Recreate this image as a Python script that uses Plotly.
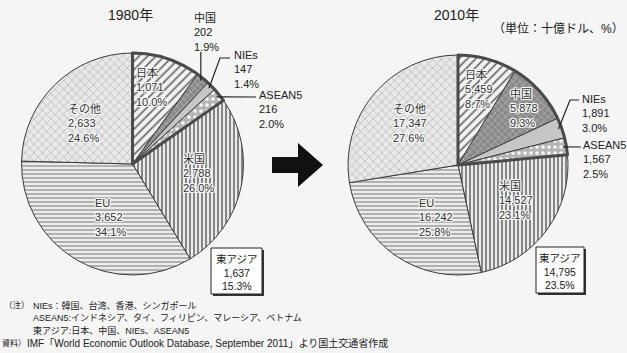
import math
import plotly.graph_objects as go

W, H = 627, 353

# Nominal GDP by region (billion US$)
regions = ["日本", "中国", "NIEs", "ASEAN5", "米国", "EU", "その他"]
gdp_1980 = [1071, 202, 147, 216, 2788, 3652, 2633]
gdp_2010 = [5459, 5878, 1891, 1567, 14527, 16242, 17347]
east_asia_total = [1637, 14795]
years = ["1980年", "2010年"]
unit_label = "（単位：十億ドル、%）"
east_asia_label = "東アジア"
note_prefixes = ["（注）", "資料）"]
note_lines = [
    "NIEs：韓国、台湾、香港、シンガポール",
    "ASEAN5:インドネシア、タイ、フィリピン、マレーシア、ベトナム",
    "東アジア:日本、中国、NIEs、ASEAN5",
]
source_line = "IMF「World Economic Outlook Database, September 2011」より国土交通省作成"

FONT = "Liberation Sans, Noto Sans CJK JP, sans-serif"
BG = "#f5f5f5"
EDGE = "#3c3c3c"
INK = "#222222"

# fill style for each region
patterns = [
    dict(shape="/", bgcolor="#f2f2f2", fgcolor="#6e6e6e", size=6, solidity=0.3),
    dict(shape="x", bgcolor="#8a8a8a", fgcolor="#b0b0b0", size=5, solidity=0.3),
    dict(shape="", bgcolor="#c6c6c6", fgcolor="#c6c6c6"),
    dict(shape=".", bgcolor="#b4b4b4", fgcolor="#f6f6f6", size=6, solidity=0.3),
    dict(shape="|", bgcolor="#ececec", fgcolor="#7a7a7a", size=4, solidity=0.45),
    dict(shape="-", bgcolor="#ececec", fgcolor="#a2a2a2", size=4, solidity=0.4),
    dict(shape="x", bgcolor="#e8e8e8", fgcolor="#b8b8b8", size=6, solidity=0.25),
]
fills = [p["bgcolor"] for p in patterns]


def px(x):
    return x / W


def py(y):
    return 1 - y / H


# pie geometry in pixels: centre x, centre y, radius
pies = [(132.5, 164.0, 111.0), (458.0, 165.0, 110.0)]
series = [gdp_1980, gdp_2010]

fig = go.Figure()
for (cx, cy, r), vals, ea in zip(pies, series, east_asia_total):
    dom = dict(x=[px(cx - r), px(cx + r)], y=[py(cy + r), py(cy - r)])
    fig.add_trace(go.Pie(
        labels=regions, values=vals, sort=False, direction="clockwise",
        rotation=0, domain=dom, textinfo="none", hoverinfo="label+value+percent",
        marker=dict(colors=fills, pattern=dict(
            shape=[p["shape"] for p in patterns],
            bgcolor=[p["bgcolor"] for p in patterns],
            fgcolor=[p["fgcolor"] for p in patterns],
            size=[p.get("size", 8) for p in patterns],
            solidity=[p.get("solidity", 0.3) for p in patterns],
            fillmode="replace"),
            line=dict(color=EDGE, width=1)),
        showlegend=False,
    ))
    # thick outline around the East Asia group
    rest = sum(vals[4:])
    fig.add_trace(go.Pie(
        labels=["東アジア", "その他地域"], values=[ea, rest], sort=False,
        direction="clockwise", rotation=0, domain=dom, textinfo="none",
        hoverinfo="skip",
        marker=dict(colors=["rgba(0,0,0,0)", "rgba(0,0,0,0)"],
                    line=dict(color="#4a4a4a", width=[3, 0])),
        showlegend=False,
    ))


def slice_point(vals, idx, cx, cy, r, frac):
    total = sum(vals)
    mid = (sum(vals[:idx]) + vals[idx] / 2) / total * 2 * math.pi
    return cx + frac * r * math.sin(mid), cy - frac * r * math.cos(mid)


def label_text(vals, idx):
    total = sum(vals)
    return f"{regions[idx]}<br>{vals[idx]:,}<br>{vals[idx] / total * 100:.1f}%"


HALO = ", ".join(f"{dx}px {dy}px 0 #f8f8f8" for dx, dy in
                 [(1, 0), (-1, 0), (0, 1), (0, -1), (1, 1), (-1, -1), (1, -1), (-1, 1)])

annotations = []
shapes = []

# label anchor (left x, middle y) for each region, per year
label_pos = [
    [(135, 87), (193, 33), (233, 70), (258, 110), (182, 173), (94, 217), (67, 123)],
    [(464, 89), (509, 108), (581, 113), (582, 159), (498, 200), (418, 217), (392, 123)],
]
outside = [[1, 2, 3], [2, 3]]
LABEL_SIZE = 11

for k, vals in enumerate(series):
    for i in range(len(regions)):
        lx, ly = label_pos[k][i]
        ext = i in outside[k]
        annotations.append(dict(
            x=px(lx), y=py(ly), xref="paper", yref="paper",
            xanchor="left", yanchor="middle", align="left", borderpad=0,
            text=label_text(vals, i), showarrow=False,
            font=dict(family=FONT, size=LABEL_SIZE, color=INK if ext else "#333333",
                      shadow="none" if ext else HALO),
        ))

# leader lines from outside labels to their slices: (pie, bend points, slice, vertical)
leaders = [
    (0, [], 1, True),
    (0, [(230, 58), (220, 58)], 2, False),
    (0, [(256, 97)], 3, False),
    (1, [(579, 100), (570, 100)], 2, False),
    (1, [(581, 147)], 3, False),
]
for k, pts, idx, vertical in leaders:
    cx, cy, r = pies[k]
    ex, ey = slice_point(series[k], idx, cx, cy, r, 0.97)
    if vertical:
        pts = [(ex, 52)]
    path = "M " + " L ".join(f"{px(a)},{py(b)}" for a, b in pts + [(ex, ey)])
    shapes.append(dict(type="path", xref="paper", yref="paper", path=path,
                       line=dict(color=INK, width=1.2), layer="above"))

# East Asia total boxes with drop shadow
boxes = [(211, 248, 262, 294), (536, 247, 584, 293)]
for (x0, y0, x1, y1), ea, vals in zip(boxes, east_asia_total, series):
    total = sum(vals[4:]) + ea
    shapes.append(dict(type="rect", xref="paper", yref="paper",
                       x0=px(x0 + 2), x1=px(x1 + 2), y0=py(y1 + 2), y1=py(y0 + 2),
                       fillcolor="#333333", line=dict(width=0), layer="above"))
    shapes.append(dict(type="rect", xref="paper", yref="paper",
                       x0=px(x0), x1=px(x1), y0=py(y1), y1=py(y0),
                       fillcolor="#ffffff", line=dict(color=INK, width=1),
                       layer="above"))
    annotations.append(dict(
        x=px((x0 + x1) / 2), y=py((y0 + y1) / 2 + 1), xref="paper", yref="paper",
        xanchor="center", yanchor="middle", align="center", showarrow=False,
        borderpad=0,
        text=f"{east_asia_label}<br>{ea:,}<br>{ea / total * 100:.1f}%",
        font=dict(family=FONT, size=10.5, color=INK),
    ))

# arrow between the two pies
arrow = [(272, 157), (298, 157), (298, 143), (323, 165), (298, 187), (298, 173), (272, 173)]
shapes.append(dict(type="path", xref="paper", yref="paper",
                   path="M " + " L ".join(f"{px(a)},{py(b)}" for a, b in arrow) + " Z",
                   fillcolor="#111111", line=dict(width=0)))

# year titles and unit
for (cx_, _, _), yr in zip(pies, years):
    annotations.append(dict(x=px(cx_ - 2), y=py(15), xref="paper", yref="paper",
                            xanchor="center", yanchor="middle", showarrow=False,
                            text=yr, font=dict(family=FONT, size=14, color=INK)))
annotations.append(dict(x=px(626), y=py(29), xref="paper", yref="paper",
                        xanchor="right", yanchor="middle", showarrow=False,
                        text=unit_label, font=dict(family=FONT, size=12, color=INK)))

# notes and source
PREFIX_SIZE = 8.5
annotations.append(dict(x=px(31), y=py(305), xref="paper", yref="paper",
                        xanchor="right", yanchor="middle", showarrow=False,
                        text=note_prefixes[0], borderpad=0,
                        font=dict(family=FONT, size=PREFIX_SIZE, color=INK)))
for line, ny in zip(note_lines, [305, 317.5, 330]):
    annotations.append(dict(x=px(32), y=py(ny), xref="paper", yref="paper",
                            xanchor="left", yanchor="middle", showarrow=False,
                            text=line, borderpad=0,
                            font=dict(family=FONT, size=9, color=INK)))
annotations.append(dict(x=px(1), y=py(343), xref="paper", yref="paper",
                        xanchor="left", yanchor="middle", showarrow=False,
                        text=note_prefixes[1], borderpad=0,
                        font=dict(family=FONT, size=8, color=INK)))
annotations.append(dict(x=px(26), y=py(343), xref="paper", yref="paper",
                        xanchor="left", yanchor="middle", showarrow=False,
                        text=source_line, borderpad=0,
                        font=dict(family=FONT, size=10, color=INK)))

fig.update_layout(
    width=W, height=H, margin=dict(l=0, r=0, t=0, b=0),
    paper_bgcolor=BG, plot_bgcolor=BG,
    annotations=annotations, shapes=shapes,
    font=dict(family=FONT),
)
fig.write_html("out.html")
